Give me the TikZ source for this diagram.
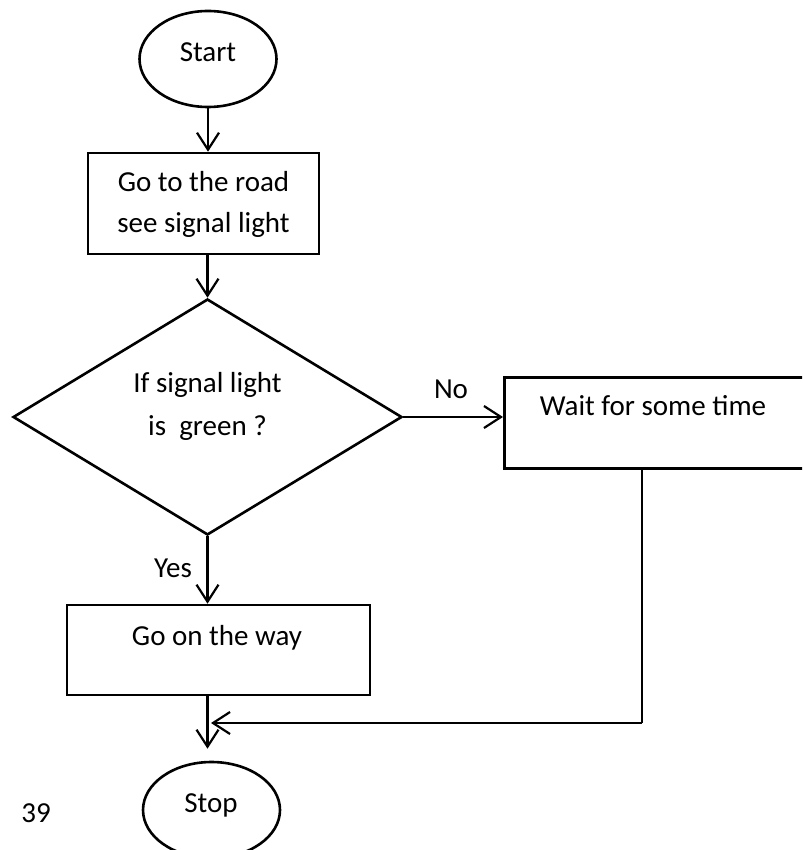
\documentclass[tikz,border=0pt]{standalone}
\usepackage{fontspec}
\setmainfont{Carlito}
\usetikzlibrary{shapes.geometric,arrows.meta}

\begin{document}
\begin{tikzpicture}[x=1pt,y=-1pt,
  every node/.style={font=\fontsize{29}{35}\selectfont},
  outline/.style={draw=black,line width=2.6pt,inner sep=0pt},
  terminal/.style={outline,ellipse,minimum width=137pt,minimum height=96pt},
  stepbox/.style={outline,rectangle},
  decision/.style={outline,diamond,minimum width=389pt,minimum height=236pt},
  txt/.style={anchor=base,inner sep=0pt},
  flow/.style={line width=2.2pt,-{Straight Barb[length=17pt,width=22pt,line width=2.2pt]}},
  plain/.style={line width=2.2pt}]
\useasboundingbox (0,0) rectangle (802,850);
\clip (0,0) rectangle (802,850);

% shapes
\node[terminal] (start) at (208,59) {};
\node[stepbox,minimum width=231pt,minimum height=101pt] (road) at (203.5,203.5) {};
\node[decision] (cond) at (207.5,417) {};
\node[stepbox,minimum width=320pt,minimum height=91pt,anchor=north west] (wait) at (503,376) {};
\node[stepbox,minimum width=303pt,minimum height=90pt] (go) at (218.5,650) {};
\node[terminal] (stop) at (211.5,810) {};

% texts
\node[txt] (tstart) at (208,62) {Start};
\node[txt] (troad1) at (203.5,192) {Go to the road};
\node[txt] (troad2) at (203.5,233) {see signal light};
\node[txt] (tcond1) at (207.5,392) {If signal light};
\node[txt] (tcond2) at (207.5,435) {is\ \ green ?};
\node[txt] (tno) at (451,398) {No};
\node[txt] (twait) at (653,415) {Wait for some time};
\node[txt] (tyes) at (173,577) {Yes};
\node[txt] (tgo) at (217,645) {Go on the way};
\node[txt] (tstop) at (211,812) {Stop};
\node[txt] (tpage) at (36,822) {39};

% connectors
\coordinate (waitout) at (642,467);
\coordinate (merge) at (208,723);
\draw[flow] (start.south) -- (start.south |- road.north);
\draw[flow] (cond.north |- road.south) -- (cond.north);
\draw[flow] (cond.east) -- (wait.west |- cond.east);
\draw[flow] (cond.south) -- (cond.south |- go.north);
\draw[flow,shorten >=12pt] (cond.south |- go.south) -- (cond.south |- stop.north);
\draw[plain] (waitout) -- (waitout |- merge);
\draw[flow] (waitout |- merge) -- ([xshift=3pt]merge);
\end{tikzpicture}
\end{document}
